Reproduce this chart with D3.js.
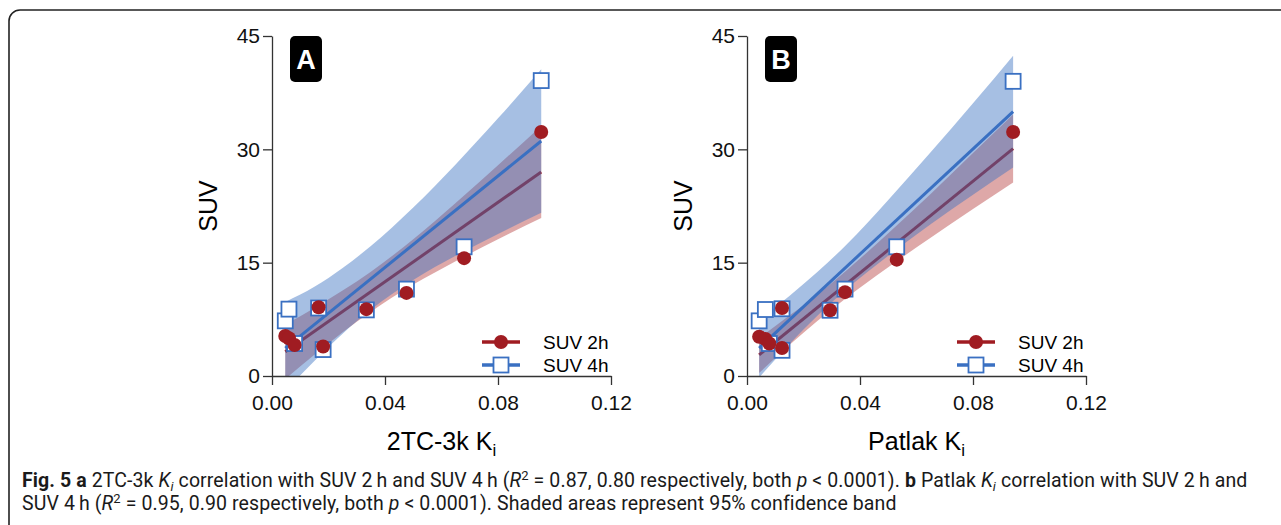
<!DOCTYPE html>
<html>
<head>
<meta charset="utf-8">
<script src="https://cdn.jsdelivr.net/npm/d3@7"></script>
<style>
  body { margin: 0; background: #fff; }
  svg text { font-family: "Liberation Sans", Arial, sans-serif; }
  .caption text { font-family: Roboto, sans-serif; letter-spacing: 0.1px; }
</style>
</head>
<body>
<svg id="chart" width="1281" height="525"></svg>
<script>
// ---- data ----
const kiTicks = [0, 0.04, 0.08, 0.12];
const suvTicks = [0, 15, 30, 45];
const seriesNames = ["SUV 2h", "SUV 4h"];

// panel A : 2TC-3k Ki
const kiA = [0.0047, 0.0060, 0.0080, 0.0165, 0.0181, 0.0334, 0.0476, 0.0680, 0.0953];
const suv2hA = [5.3, 5.0, 4.1, 9.1, 3.9, 8.85, 11.0, 15.6, 32.3];
const suv4hA = [7.3, 8.85, 4.3, 9.0, 3.5, 8.75, 11.5, 17.1, 39.1];
const fitKiA = [0.0047, 0.0953];
const fit2hA = [3.2, 27.0];
const fit4hA = [3.7, 31.1];
const bandKiA = [0.0047, 0.015, 0.025, 0.035, 0.05, 0.065, 0.08, 0.0953];
const lo2hA = [-0.4, 2.8, 5.8, 8.5, 12.1, 15.2, 18.1, 20.9];
const hi2hA = [6.8, 9.0, 11.3, 13.8, 18.1, 22.9, 27.9, 33.1];
const lo4hA = [-2.0, 2.0, 5.6, 8.8, 12.7, 15.9, 18.8, 21.6];
const hi4hA = [9.8, 11.8, 14.3, 17.2, 22.3, 28.0, 34.1, 40.6];

// panel B : Patlak Ki
const kiB = [0.0043, 0.0065, 0.0079, 0.0124, 0.0124, 0.0294, 0.0347, 0.0530, 0.0942];
const suv2hB = [5.2, 4.9, 4.3, 9.0, 3.7, 8.7, 11.1, 15.4, 32.3];
const suv4hB = [7.3, 8.8, 4.3, 8.9, 3.4, 8.7, 11.5, 17.1, 39.0];
const fitKiB = [0.0043, 0.0942];
const fit2hB = [2.8, 30.1];
const fit4hB = [3.7, 35.0];
const bandKiB = [0.0043, 0.015, 0.025, 0.035, 0.05, 0.065, 0.08, 0.0942];
const lo2hB = [0.4, 4.1, 7.3, 10.3, 14.4, 18.3, 22.1, 25.6];
const hi2hB = [5.0, 8.0, 10.8, 13.9, 18.9, 24.1, 29.5, 34.6];
const lo4hB = [-0.2, 4.2, 8.0, 11.4, 15.9, 20.1, 24.0, 27.6];
const hi4hB = [7.4, 10.6, 13.8, 17.3, 23.3, 29.6, 36.1, 42.4];

// colours
const red = "#a01c22", blue = "#3a70c2";

const svg = d3.select("#chart");

// outer frame (right and bottom edges run off the picture)
svg.append("rect")
  .attr("x", 9).attr("y", 10)
  .attr("width", 1300).attr("height", 540)
  .attr("rx", 11)
  .attr("fill", "none")
  .attr("stroke", "#222")
  .attr("stroke-width", 1.6);

function drawPanel(opt) {
  const x = d3.scaleLinear().domain([0, 0.12]).range([opt.left, opt.left + 339]);
  const y = d3.scaleLinear().domain([0, 45]).range([376, 36]);
  const g = svg.append("g");

  const clipId = "clip" + opt.letter;
  svg.append("clipPath").attr("id", clipId)
    .append("rect")
    .attr("x", x(0)).attr("y", y(45))
    .attr("width", x(0.12) - x(0)).attr("height", y(0) - y(45));

  const plot = g.append("g").attr("clip-path", `url(#${clipId})`);

  const area = (lo, hi) => d3.area()
    .x(d => x(d))
    .y0((d, i) => y(lo[i]))
    .y1((d, i) => y(hi[i]))
    .curve(d3.curveMonotoneX);
  const line = vals => d3.line().x(d => x(d)).y((d, i) => y(vals[i]));

  // 2h band + line (below), then 4h band + line
  plot.append("path").datum(opt.bandKi)
    .attr("d", area(opt.lo2h, opt.hi2h))
    .attr("fill", "#b03030").attr("fill-opacity", 0.42);
  plot.append("path").datum(opt.fitKi)
    .attr("d", line(opt.fit2h))
    .attr("stroke", red).attr("stroke-width", 3).attr("fill", "none");
  plot.append("path").datum(opt.bandKi)
    .attr("d", area(opt.lo4h, opt.hi4h))
    .attr("fill", blue).attr("fill-opacity", 0.45);
  plot.append("path").datum(opt.fitKi)
    .attr("d", line(opt.fit4h))
    .attr("stroke", blue).attr("stroke-width", 3).attr("fill", "none");

  // axes
  const yAxis = g.append("g")
    .attr("transform", `translate(${x(0)},0)`)
    .call(d3.axisLeft(y).tickValues(suvTicks).tickSize(9).tickSizeOuter(0).tickPadding(3));
  const xAxis = g.append("g")
    .attr("transform", `translate(0,${y(0)})`)
    .call(d3.axisBottom(x).tickValues(kiTicks).tickFormat(d3.format(".2f"))
      .tickSize(9).tickSizeOuter(0).tickPadding(10));
  [xAxis, yAxis].forEach(a => {
    a.selectAll("path, line").attr("stroke", "#333").attr("stroke-width", 1.3);
    a.selectAll("text").attr("fill", "#111").style("font-size", "21px")
      .style("font-family", '"Liberation Sans", Arial, sans-serif');
  });

  // points: squares first (white fill), circles on top
  const sq = 15;
  g.selectAll(".sq" + opt.letter).data(opt.ki).enter().append("rect")
    .attr("x", d => x(d) - sq / 2)
    .attr("y", (d, i) => y(opt.suv4h[i]) - sq / 2)
    .attr("width", sq).attr("height", sq)
    .attr("fill", "#fff").attr("stroke", blue).attr("stroke-width", 1.8);
  g.selectAll(".ci" + opt.letter).data(opt.ki).enter().append("circle")
    .attr("cx", d => x(d))
    .attr("cy", (d, i) => y(opt.suv2h[i]))
    .attr("r", 7)
    .attr("fill", red);

  // panel letter
  g.append("rect")
    .attr("x", x(0) + 18).attr("y", 36)
    .attr("width", 32).attr("height", 46).attr("rx", 5)
    .attr("fill", "#000");
  g.append("text")
    .attr("x", x(0) + 34).attr("y", 69)
    .attr("text-anchor", "middle")
    .attr("fill", "#fff")
    .style("font-size", "27px").style("font-weight", "bold")
    .text(opt.letter);

  // axis titles
  g.append("text")
    .attr("transform", `translate(${x(0) - 64},${y(22.5)}) rotate(-90)`)
    .attr("text-anchor", "middle")
    .attr("dy", "0.35em")
    .style("font-size", "25px")
    .text("SUV");
  const xt = g.append("text")
    .attr("x", x(0.06)).attr("y", 450)
    .attr("text-anchor", "middle")
    .style("font-size", "25px");
  xt.append("tspan").text(opt.xTitle + " K");
  xt.append("tspan").attr("dy", 6).style("font-size", "17px").text("i");

  // legend
  const lx = x(0) + 210, ly = 342;
  seriesNames.forEach((name, i) => {
    const yy = ly + i * 23;
    const col = i === 0 ? red : blue;
    g.append("line")
      .attr("x1", lx).attr("x2", lx + 38)
      .attr("y1", yy).attr("y2", yy)
      .attr("stroke", col).attr("stroke-width", 3.5);
    if (i === 0) {
      g.append("circle").attr("cx", lx + 19).attr("cy", yy).attr("r", 7).attr("fill", red);
    } else {
      g.append("rect")
        .attr("x", lx + 19 - sq / 2).attr("y", yy - sq / 2)
        .attr("width", sq).attr("height", sq)
        .attr("fill", "#fff").attr("stroke", blue).attr("stroke-width", 1.8);
    }
    g.append("text")
      .attr("x", lx + 61).attr("y", yy + 7)
      .style("font-size", "19px")
      .text(name);
  });
}

drawPanel({
  letter: "A", left: 272, xTitle: "2TC-3k",
  ki: kiA, suv2h: suv2hA, suv4h: suv4hA,
  fitKi: fitKiA, fit2h: fit2hA, fit4h: fit4hA,
  bandKi: bandKiA, lo2h: lo2hA, hi2h: hi2hA, lo4h: lo4hA, hi4h: hi4hA
});
drawPanel({
  letter: "B", left: 747, xTitle: "Patlak",
  ki: kiB, suv2h: suv2hB, suv4h: suv4hB,
  fitKi: fitKiB, fit2h: fit2hB, fit4h: fit4hB,
  bandKi: bandKiB, lo2h: lo2hB, hi2h: hi2hB, lo4h: lo4hB, hi4h: hi4hB
});

// caption (sub/superscripts via baseline-shift so the lines keep one baseline)
const cap = svg.append("g").attr("class", "caption")
  .style("font-size", "19.5px").attr("fill", "#1a1a1a");
const sub = t => t.attr("baseline-shift", "-4").style("font-size", "13px");
const sup = t => t.attr("baseline-shift", "7").style("font-size", "13px");
const l1 = cap.append("text").attr("x", 22).attr("y", 487);
l1.append("tspan").style("font-weight", "bold").text("Fig. 5 a");
l1.append("tspan").text(" 2TC-3k ");
l1.append("tspan").style("font-style", "italic").text("K");
sub(l1.append("tspan").style("font-style", "italic").text("i"));
l1.append("tspan").text(" correlation with SUV 2\u2009h and SUV 4\u2009h (");
l1.append("tspan").style("font-style", "italic").text("R");
sup(l1.append("tspan").text("2"));
l1.append("tspan").text(" = 0.87, 0.80 respectively, both ");
l1.append("tspan").style("font-style", "italic").text("p");
l1.append("tspan").text(" < 0.0001). ");
l1.append("tspan").style("font-weight", "bold").text("b");
l1.append("tspan").text(" Patlak ");
l1.append("tspan").style("font-style", "italic").text("K");
sub(l1.append("tspan").style("font-style", "italic").text("i"));
l1.append("tspan").text(" correlation with SUV 2\u2009h and");

const l2 = cap.append("text").attr("x", 22).attr("y", 510);
l2.append("tspan").text("SUV 4\u2009h (");
l2.append("tspan").style("font-style", "italic").text("R");
sup(l2.append("tspan").text("2"));
l2.append("tspan").text(" = 0.95, 0.90 respectively, both ");
l2.append("tspan").style("font-style", "italic").text("p");
l2.append("tspan").text(" < 0.0001). Shaded areas represent 95% confidence band");
</script>
</body>
</html>
